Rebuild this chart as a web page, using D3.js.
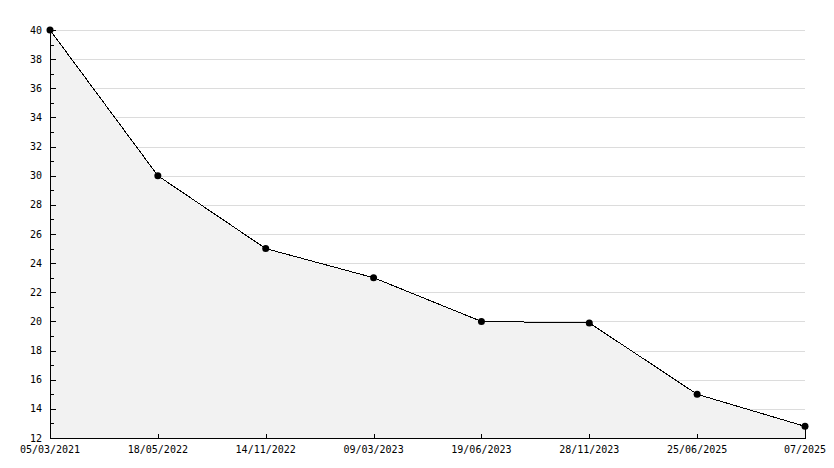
<!DOCTYPE html>
<html><head><meta charset="utf-8">
<script src="https://cdn.jsdelivr.net/npm/d3@7"></script>
<style>body{margin:0;background:#fff}svg{display:block}text{font-family:"DejaVu Sans Mono",monospace;font-size:10px;fill:#000}</style>
</head><body>
<svg id="c" width="834" height="468"></svg>
<script>
const categories = ["05/03/2021","18/05/2022","14/11/2022","09/03/2023","19/06/2023","28/11/2023","25/06/2025","07/2025"];
const values = [40, 30, 25, 23, 20, 19.9, 15, 12.8];
const yTicks = [12,14,16,18,20,22,24,26,28,30,32,34,36,38,40];
const yMinor = [13,15,17,19,21,23,25,27,29,31,33,35,37,39];

const svg = d3.select("#c");
const L = 50, R = 805, T = 30, B = 438;
const x = d3.scalePoint().domain(categories).range([L, R]);
const y = d3.scaleLinear().domain([12, 40]).range([B, T]);
const data = categories.map((c, i) => ({c, v: values[i]}));

// grid
svg.append("g").selectAll("line").data(yTicks.filter(t => t > 12)).join("line")
  .attr("x1", L).attr("x2", R).attr("y1", d => Math.round(y(d)) + 0.5).attr("y2", d => Math.round(y(d)) + 0.5)
  .attr("stroke", "#dcdcdc").attr("shape-rendering", "crispEdges");

// area
svg.append("path").datum(data)
  .attr("d", d3.area().x(d => x(d.c)).y0(y(12)).y1(d => y(d.v)))
  .attr("fill", "#f2f2f2");

// line
svg.append("path").datum(data)
  .attr("d", d3.line().x(d => x(d.c)).y(d => y(d.v)))
  .attr("fill", "none").attr("stroke", "#000").attr("stroke-width", 1).attr("shape-rendering", "crispEdges");

// right edge of area
const last = data[data.length - 1];
svg.append("line").attr("x1", x(last.c) + 0.5).attr("x2", x(last.c) + 0.5)
  .attr("y1", y(last.v)).attr("y2", B).attr("stroke", "#000").attr("shape-rendering", "crispEdges");

// axes
const yAxis = svg.append("g").attr("transform", `translate(${L + 0.5},0)`)
  .call(d3.axisRight(y).tickValues(yTicks).tickSize(5).tickFormat(""));
yAxis.select(".domain").remove();
yAxis.selectAll("line").attr("shape-rendering", "crispEdges");
svg.append("g").attr("transform", `translate(${L + 0.5},0)`)
  .call(d3.axisRight(y).tickValues(yMinor).tickSize(3).tickFormat(""))
  .call(g => g.select(".domain").remove())
  .selectAll("line").attr("shape-rendering", "crispEdges");
svg.append("line").attr("x1", L + 0.5).attr("x2", L + 0.5).attr("y1", T).attr("y2", B)
  .attr("stroke", "#000").attr("shape-rendering", "crispEdges");
svg.append("g").selectAll("text").data(yTicks).join("text")
  .attr("x", L - 8).attr("y", d => y(d)).attr("dy", "0.35em").attr("text-anchor", "end").text(d => d);

const xAxis = svg.append("g").attr("transform", `translate(0,${B + 0.5})`)
  .call(d3.axisTop(x).tickSize(5).tickFormat(""));
xAxis.select(".domain").remove();
xAxis.selectAll("line").attr("shape-rendering", "crispEdges");
svg.append("line").attr("x1", L).attr("x2", R + 1).attr("y1", B + 0.5).attr("y2", B + 0.5)
  .attr("stroke", "#000").attr("shape-rendering", "crispEdges");
svg.append("g").selectAll("text").data(categories).join("text")
  .attr("x", d => x(d)).attr("y", B + 15).attr("text-anchor", "middle").text(d => d);

// markers
svg.append("g").selectAll("circle").data(data).join("circle")
  .attr("cx", d => x(d.c)).attr("cy", d => y(d.v)).attr("r", 3.5).attr("fill", "#000");
</script>
</body></html>
